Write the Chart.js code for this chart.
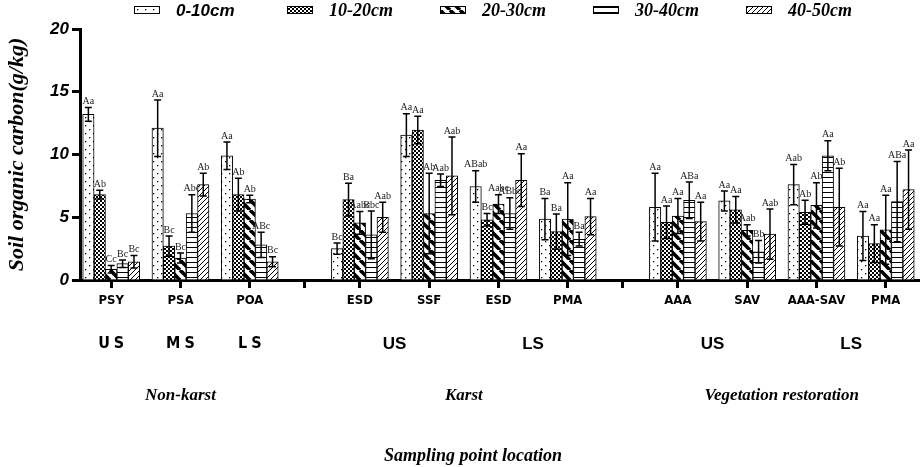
<!DOCTYPE html>
<html>
<head>
<meta charset="utf-8">
<title>Soil organic carbon by depth</title>
<script src="https://cdn.jsdelivr.net/npm/chart.js@4.4.1/dist/chart.umd.min.js"></script>
<style>
  html, body { margin: 0; padding: 0; background: #fff; }
  #wrap { width: 920px; height: 467px; }
</style>
</head>
<body>
<div id="wrap"><canvas id="soc" width="920" height="467"></canvas></div>
<script>
// Sampling sites in drawing order, and the groups they belong to
const categories = ['PSY', 'PSA', 'POA', 'ESD', 'SSF', 'ESD', 'PMA', 'AAA', 'SAV', 'AAA-SAV', 'PMA'];
const groupNames = ['Non-karst', 'Karst', 'Vegetation restoration'];
const groupSizes = [3, 4, 4];
const slopeLabels = [['US', 'MS', 'LS'], ['US', 'LS'], ['US', 'LS']];
const depths = ['0-10cm', '10-20cm', '20-30cm', '30-40cm', '40-50cm'];
const yTicks = [0, 5, 10, 15, 20];

// Soil organic carbon (g/kg), one array per depth
const soc0_10  = [13.2, 12.1, 9.9, 2.5, 11.55, 7.45, 4.85, 5.8, 6.3, 7.6, 3.5];
const soc10_20 = [6.8, 2.7, 6.8, 6.4, 11.95, 4.8, 3.85, 4.6, 5.6, 5.4, 2.9];
const soc20_30 = [0.85, 1.75, 6.45, 4.55, 5.3, 6.05, 4.85, 5.1, 3.95, 5.95, 4.0];
const soc30_40 = [1.3, 5.3, 2.8, 3.6, 7.95, 5.3, 3.25, 6.35, 2.25, 9.9, 6.25];
const soc40_50 = [1.45, 7.6, 1.45, 5.0, 8.3, 7.95, 5.05, 4.65, 3.65, 5.8, 7.2];

// Standard deviations
const err0_10  = [0.55, 2.25, 1.1, 0.45, 1.7, 1.25, 1.65, 2.7, 0.8, 1.6, 1.95];
const err10_20 = [0.35, 0.8, 1.3, 1.3, 1.1, 0.5, 1.4, 1.3, 1.05, 0.95, 1.5];
const err20_30 = [0.3, 0.4, 0.3, 0.9, 3.2, 0.75, 2.9, 1.4, 0.45, 1.8, 2.75];
const err30_40 = [0.3, 1.5, 1.0, 1.9, 0.5, 1.25, 0.55, 1.45, 0.9, 1.2, 3.2];
const err40_50 = [0.5, 0.9, 0.4, 1.2, 3.1, 2.1, 1.45, 1.55, 2.0, 3.1, 3.15];

// Significance letters
const sig0_10  = ['Aa', 'Aa', 'Aa', 'Bc', 'Aa', 'ABab', 'Ba', 'Aa', 'Aa', 'Aab', 'Aa'];
const sig10_20 = ['Ab', 'Bc', 'Ab', 'Ba', 'Aa', 'Bc', 'Ba', 'Aa', 'Aa', 'Ab', 'Aa'];
const sig20_30 = ['Cc', 'Bc', 'Ab', 'Aabc', 'Ab', 'Aabc', 'Aa', 'Aa', 'Aab', 'Ab', 'Aa'];
const sig30_40 = ['Bc', 'Abc', 'ABc', 'Bbc', 'Aab', 'ABbc', 'Ba', 'ABa', 'Bb', 'Aa', 'ABa'];
const sig40_50 = ['Bc', 'Ab', 'Bc', 'Aab', 'Aab', 'Aa', 'Aa', 'Aa', 'Aab', 'Ab', 'Aa'];

const values = [soc0_10, soc10_20, soc20_30, soc30_40, soc40_50];
const errors = [err0_10, err10_20, err20_30, err30_40, err40_50];
const letters = [sig0_10, sig10_20, sig20_30, sig30_40, sig40_50];

// Layout: groups are separated by a wider gap (in category widths)
const GAP = 1.59;
const catX = [];
const groupIdx = [];
let pos = 0;
groupSizes.forEach(n => {
    const idx = [];
    for (let i = 0; i < n; i++) { idx.push(catX.length); catX.push(pos); pos += 1; }
    groupIdx.push(idx);
    pos += GAP - 1;
});
const separators = [];
for (let g = 0; g < groupIdx.length - 1; g++) {
    const a = catX[groupIdx[g][groupIdx[g].length - 1]];
    const b = catX[groupIdx[g + 1][0]];
    separators.push((a + b) / 2);
}
const xTickVals = catX.concat(separators).sort((a, b) => a - b);
const xTickLabels = xTickVals.map(v => {
    const i = catX.indexOf(v);
    return i >= 0 ? categories[i] : '';
});

// Fill patterns, one per depth
function makePattern(kind) {
    const c = document.createElement('canvas');
    const g = c.getContext('2d');
    const sizes = { dots: 8, check: 4, thick: 10, hlines: 5, thin: 5 };
    const s = sizes[kind];
    c.width = s; c.height = s;
    g.fillStyle = '#fff';
    g.fillRect(0, 0, s, s);
    g.fillStyle = '#000';
    g.strokeStyle = '#000';
    if (kind === 'dots') {
        g.fillRect(1, 1, 1.3, 1.3);
        g.fillRect(5, 5, 1.3, 1.3);
    } else if (kind === 'check') {
        g.fillRect(0, 0, 2, 2);
        g.fillRect(2, 2, 2, 2);
    } else if (kind === 'thick') {
        g.lineWidth = 3.6;
        [-s, 0, s].forEach(o => {
            g.beginPath(); g.moveTo(o, 0); g.lineTo(o + s, s); g.stroke();
        });
    } else if (kind === 'hlines') {
        g.fillRect(0, 2, s, 1);
    } else if (kind === 'thin') {
        g.lineWidth = 1;
        [-s, 0, s].forEach(o => {
            g.beginPath(); g.moveTo(o, s); g.lineTo(o + s, 0); g.stroke();
        });
    }
    return g.createPattern(c, 'repeat');
}
const patterns = ['dots', 'check', 'thick', 'hlines', 'thin'].map(makePattern);

const serif = '"Liberation Serif", "Times New Roman", serif';
const sans = '"Liberation Sans", Arial, sans-serif';
const narrow = '"Liberation Sans Narrow", "Arial Narrow", "DejaVu Sans Condensed", sans-serif';

// Error bars with significance letters
const errorBars = {
    id: 'errorBars',
    afterDatasetsDraw(chart) {
        const ctx = chart.ctx;
        const y = chart.scales.y;
        ctx.save();
        ctx.strokeStyle = '#000';
        ctx.lineWidth = 1.5;
        chart.data.datasets.forEach((ds, d) => {
            const meta = chart.getDatasetMeta(d);
            meta.data.forEach((bar, i) => {
                const v = values[d][i], e = errors[d][i];
                const top = y.getPixelForValue(v + e);
                const bot = y.getPixelForValue(Math.max(v - e, 0));
                ctx.beginPath();
                ctx.moveTo(bar.x, top); ctx.lineTo(bar.x, bot);
                ctx.moveTo(bar.x - 3.5, top); ctx.lineTo(bar.x + 3.5, top);
                ctx.moveTo(bar.x - 3.5, bot); ctx.lineTo(bar.x + 3.5, bot);
                ctx.stroke();
                ctx.fillStyle = '#222';
                ctx.font = '10px ' + serif;
                ctx.textAlign = 'center';
                ctx.textBaseline = 'bottom';
                ctx.fillText(letters[d][i], bar.x, top - 1);
            });
        });
        ctx.restore();
    }
};

// Legend across the top
const topLegend = {
    id: 'topLegend',
    afterDraw(chart) {
        const ctx = chart.ctx;
        const x0 = 134, step = 153, yMid = 10;
        ctx.save();
        depths.forEach((name, d) => {
            const bx = x0 + d * step;
            ctx.fillStyle = patterns[d];
            ctx.fillRect(bx, yMid - 4, 26, 8);
            ctx.strokeStyle = '#000';
            ctx.lineWidth = 1;
            ctx.strokeRect(bx + 0.5, yMid - 3.5, 25, 7);
            ctx.fillStyle = '#000';
            ctx.textAlign = 'left';
            ctx.textBaseline = 'middle';
            ctx.font = d === 0 ? 'italic bold 17px ' + sans : 'italic bold 18px ' + serif;
            ctx.fillText(name, bx + 42, yMid + 1);
        });
        ctx.restore();
    }
};

// Slope positions, group names and the x title below the axis
const bottomText = {
    id: 'bottomText',
    afterDraw(chart) {
        const ctx = chart.ctx;
        const x = chart.scales.x;
        ctx.save();
        ctx.fillStyle = '#000';
        ctx.textAlign = 'center';
        ctx.textBaseline = 'middle';
        groupIdx.forEach((idx, g) => {
            const labs = slopeLabels[g];
            const per = idx.length / labs.length;
            labs.forEach((t, k) => {
                let sum = 0;
                for (let j = 0; j < per; j++) sum += catX[idx[k * per + j]];
                const px = x.getPixelForValue(sum / per);
                if (g === 0) {
                    ctx.font = 'bold 16px ' + narrow;
                    ctx.letterSpacing = '4px';
                    ctx.fillText(t, px + 2, 344);
                } else {
                    ctx.font = 'bold 17px ' + sans;
                    ctx.letterSpacing = '0px';
                    ctx.fillText(t, px, 344);
                }
            });
            ctx.letterSpacing = '0px';
            const mid = (catX[idx[0]] + catX[idx[idx.length - 1]]) / 2;
            ctx.font = 'italic bold 17px ' + serif;
            ctx.fillText(groupNames[g], x.getPixelForValue(mid), 396);
        });
        ctx.font = 'italic bold 18px ' + serif;
        ctx.fillText('Sampling point location', 473, 456);
        ctx.restore();
    }
};

const datasets = depths.map((name, d) => ({
    label: name,
    data: values[d].map((v, i) => ({ x: catX[i], y: v })),
    backgroundColor: patterns[d],
    borderColor: '#000',
    borderWidth: 1,
    barThickness: 11.4
}));

new Chart(document.getElementById('soc'), {
    type: 'bar',
    data: { datasets: datasets },
    plugins: [errorBars, topLegend, bottomText],
    options: {
        responsive: false,
        animation: false,
        devicePixelRatio: 1,
        layout: { padding: { top: 29, left: 0, right: 1, bottom: 0 } },
        plugins: { legend: { display: false }, tooltip: { enabled: false } },
        scales: {
            x: {
                type: 'linear',
                min: -0.45,
                max: catX[catX.length - 1] + 0.48,
                offset: false,
                afterBuildTicks: s => { s.ticks = xTickVals.map(v => ({ value: v })); },
                afterFit: s => { s.height = 187; },
                border: { display: true, width: 3, color: '#000' },
                grid: { display: true, offset: false, drawOnChartArea: false, tickLength: 8, tickWidth: 3, tickColor: '#000', color: '#000' },
                ticks: {
                    autoSkip: false, maxRotation: 0, minRotation: 0, padding: 5,
                    color: '#000',
                    font: { family: narrow, size: 13, weight: 'bold' },
                    callback: (v, i) => xTickLabels[i]
                }
            },
            y: {
                min: 0,
                max: 20,
                afterBuildTicks: s => { s.ticks = yTicks.map(v => ({ value: v })); },
                afterFit: s => { s.width = 80; },
                border: { display: true, width: 3, color: '#000' },
                grid: { display: true, drawOnChartArea: false, tickLength: 8, tickWidth: 3, tickColor: '#000', color: '#000' },
                ticks: {
                    padding: 3,
                    color: '#000',
                    font: { family: sans, size: 17, weight: 'bold', style: 'italic' }
                },
                title: {
                    display: true,
                    text: 'Soil organic carbon(g/kg)',
                    color: '#000',
                    padding: { top: 4, bottom: 0 },
                    font: { family: serif, size: 22, weight: 'bold', style: 'italic' }
                }
            }
        }
    }
});
</script>
</body>
</html>
